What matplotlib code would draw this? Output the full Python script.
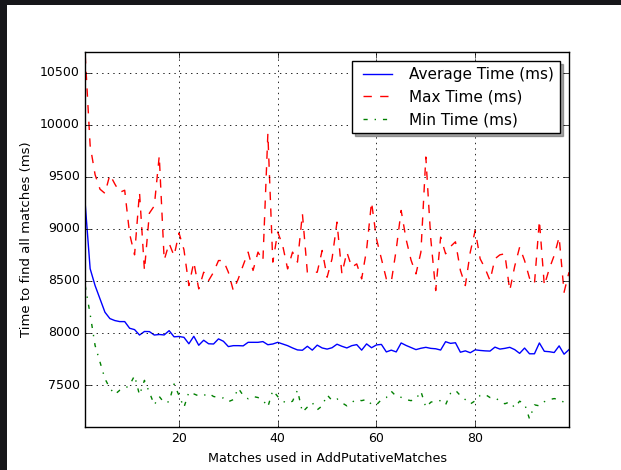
import matplotlib
matplotlib.use("Agg")
import matplotlib.pyplot as plt
from matplotlib.patches import Rectangle

plt.style.use("classic")
plt.rcParams["font.family"] = ["DejaVu Sans"]

# Number of putative matches used (x axis)
matches = list(range(1, 100))

# Timing results in milliseconds
avg_time = [9240, 8617, 8455, 8327, 8199, 8138, 8119, 8109, 8109, 8045,
            8032, 7980, 8014, 8013, 7980, 7985, 7981, 8022, 7963, 7966,
            7958, 7896, 7968, 7882, 7930, 7896, 7894, 7943, 7920, 7869,
            7878, 7878, 7876, 7910, 7910, 7910, 7917, 7887, 7894, 7910,
            7894, 7878, 7856, 7837, 7834, 7872, 7835, 7883, 7856, 7845,
            7858, 7892, 7872, 7856, 7878, 7888, 7835, 7895, 7858, 7885,
            7890, 7818, 7835, 7818, 7904, 7880, 7860, 7840, 7853, 7862,
            7852, 7848, 7836, 7916, 7900, 7906, 7815, 7828, 7810, 7838,
            7832, 7828, 7826, 7864, 7845, 7852, 7862, 7840, 7804, 7855,
            7800, 7800, 7904, 7824, 7820, 7812, 7876, 7796, 7840]

max_time = [10667, 9800, 9520, 9380, 9340, 9520, 9430, 9350, 9370, 8950,
            8750, 9350, 8600, 9150, 9220, 9700, 8700, 8860, 8740, 8960,
            8800, 8455, 8680, 8423, 8583, 8503, 8583, 8695, 8695, 8583,
            8407, 8519, 8650, 8776, 8600, 8776, 8695, 9913, 8680, 8968,
            8840, 8615, 8776, 8680, 9144, 8583, 8583, 8583, 8792, 8535,
            8712, 9064, 8567, 8776, 8631, 8663, 8519, 8800, 9256, 8904,
            8712, 8519, 8490, 8800, 9176, 8900, 8700, 8567, 8776, 9689,
            8904, 8407, 8920, 8760, 8830, 8875, 8600, 8455, 8776, 8984,
            8712, 8620, 8503, 8712, 8750, 8760, 8407, 8640, 8824, 8695,
            8526, 8471, 9080, 8455, 8615, 8744, 8920, 8391, 8583]

min_time = [8455, 8180, 7880, 7720, 7560, 7470, 7410, 7450, 7465, 7500,
            7590, 7405, 7545, 7430, 7310, 7390, 7330, 7340, 7510, 7400,
            7285, 7432, 7415, 7395, 7400, 7420, 7390, 7380, 7375, 7340,
            7360, 7470, 7400, 7368, 7390, 7380, 7355, 7290, 7448, 7390,
            7345, 7325, 7345, 7450, 7240, 7288, 7330, 7262, 7300, 7405,
            7352, 7368, 7330, 7300, 7335, 7360, 7350, 7362, 7315, 7310,
            7360, 7380, 7440, 7392, 7382, 7360, 7350, 7365, 7440, 7286,
            7335, 7350, 7350, 7310, 7420, 7450, 7398, 7360, 7318, 7349,
            7400, 7410, 7380, 7380, 7345, 7320, 7338, 7283, 7345, 7320,
            7175, 7310, 7300, 7340, 7360, 7370, 7360, 7334, 7317]

series_labels = ["Average Time (ms)", "Max Time (ms)", "Min Time (ms)"]
x_label = "Matches used in AddPutativeMatches"
y_label = "Time to find all matches (ms)"

fig = plt.figure(figsize=(6.21, 4.70), dpi=100, facecolor="white")

# dark window border along the top and left edges
fig.patches.append(Rectangle((0, 1 - 5 / 470), 1, 5 / 470, transform=fig.transFigure,
                             facecolor="#16161a", edgecolor="none", zorder=0))
fig.patches.append(Rectangle((0, 0), 7 / 621, 1, transform=fig.transFigure,
                             facecolor="#16161a", edgecolor="none", zorder=0))

ax = fig.add_axes([85.2 / 621, 1 - 426.7 / 470, (569 - 85.2) / 621, (426.7 - 51.7) / 470])

ax.plot(matches, avg_time, "b-", lw=1.0, label=series_labels[0])
ax.plot(matches, max_time, "r--", lw=1.0, label=series_labels[1])
ax.plot(matches, min_time, "g-.", lw=1.0, label=series_labels[2])

ax.set_xlim(1, 99)
ax.set_ylim(7100, 10700)
ax.set_xticks([20, 40, 60, 80])
ax.set_yticks([7500, 8000, 8500, 9000, 9500, 10000, 10500])
ax.tick_params(labelsize=9)
ax.grid(True, color="black", linestyle=":", linewidth=0.6)

ax.set_xlabel(x_label, fontsize=9.2)
ax.set_ylabel(y_label, fontsize=9.5)

leg = ax.legend(loc="upper right", shadow=True, fontsize=11, fancybox=False,
                handlelength=2.5, borderaxespad=0.6)
leg.get_frame().set_linewidth(1.0)
leg.get_frame().set_edgecolor("black")

fig.savefig("out.png", dpi=100, facecolor=fig.get_facecolor())
